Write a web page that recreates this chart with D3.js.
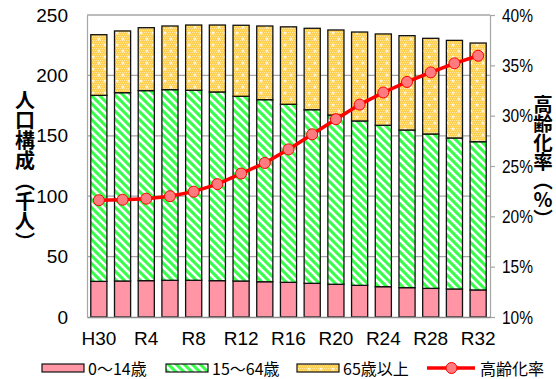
<!DOCTYPE html>
<html><head><meta charset="utf-8">
<script src="https://cdn.jsdelivr.net/npm/d3@7"></script>
<style>
html,body{margin:0;padding:0;background:#fff;}
svg{display:block;}
.vt{writing-mode:vertical-rl;text-orientation:upright;}
</style></head>
<body><svg id="c" width="556" height="379"></svg>
<script>
const categories = ["H30","R2","R4","R6","R8","R10","R12","R14","R16","R18","R20","R22","R24","R26","R28","R30","R32"];
const tickCategories = ["H30","R4","R8","R12","R16","R20","R24","R28","R32"];
const age0_14  = [29.5,29.8,30.1,30.4,30.4,30.1,29.8,29.2,28.7,27.9,27.1,26.2,25.1,24.3,23.7,23.2,22.4];
const age15_64 = [154.0,155.9,157.3,157.8,157.3,156.2,152.9,150.7,147.4,143.7,140.1,136.1,133.6,130.5,127.8,125.0,122.7];
const age65    = [50.2,51.1,52.1,52.7,54.0,55.4,58.8,61.0,64.1,67.4,70.4,73.6,75.6,78.1,79.2,80.8,81.7];
const agingRate = [21.6,21.65,21.75,22.0,22.45,23.2,24.25,25.3,26.65,28.15,29.65,31.1,32.3,33.35,34.3,35.2,35.95];
const leftTicks = [0,50,100,150,200,250];
const rightTicks = [10,15,20,25,30,35,40];
const seriesNames = ["0～14歳","15～64歳","65歳以上","高齢化率"];
const leftTitle = "人口構成（千人）";
const rightTitle = "高齢化率（％）";

const svg = d3.select("#c");
const L = 87, R = 490, T = 15, B = 317;
const numFont = "'Liberation Sans', Arial, sans-serif";
const jpFont = "'Noto Sans CJK JP', sans-serif";

// patterns
const defs = svg.append("defs");
const pg = defs.append("pattern").attr("id","pGreen").attr("patternUnits","userSpaceOnUse")
  .attr("width",8).attr("height",8);
pg.append("rect").attr("width",8).attr("height",8).attr("fill","#38FF4C");
pg.append("path").attr("d","M-2,6 L2,10 M-1,-1 L9,9 M6,-2 L10,2").attr("stroke","#fff").attr("stroke-width",2.6);

const py = defs.append("pattern").attr("id","pYellow").attr("patternUnits","userSpaceOnUse")
  .attr("width",12).attr("height",12);
py.append("rect").attr("width",12).attr("height",12).attr("fill","#FFCF52");
for (let i=0;i<12;i+=2) for (let j=0;j<12;j+=2) {
  py.append("rect").attr("x",i+((j/2)%2)).attr("y",j).attr("width",1).attr("height",1).attr("fill","#FFE8A0");
}
py.append("path").attr("d","M3,1.5 L3,4.5 M1.5,3 L4.5,3 M9,7.5 L9,10.5 M7.5,9 L10.5,9").attr("stroke","#fff").attr("stroke-width",1);

const x = d3.scaleBand().domain(categories).range([L,R]).paddingInner(0.32).paddingOuter(0.16);
const y = d3.scaleLinear().domain([0,250]).range([B,T]);
const y2 = d3.scaleLinear().domain([10,40]).range([B,T]);

// gridlines
svg.append("g").selectAll("line").data(leftTicks.slice(1)).join("line")
  .attr("x1",L).attr("x2",R).attr("y1",d=>y(d)).attr("y2",d=>y(d))
  .attr("stroke","#A6A6A6").attr("stroke-width",1.2);

// bars
const stackData = categories.map((c,i)=>({c, a:age0_14[i], b:age15_64[i], d:age65[i]}));
const stack = d3.stack().keys(["a","b","d"])(stackData);
const fills = ["#FF95A5","url(#pGreen)","url(#pYellow)"];
stack.forEach((s,k)=>{
  svg.append("g").selectAll("rect").data(s).join("rect")
    .attr("x",d=>x(d.data.c)).attr("width",x.bandwidth())
    .attr("y",d=>y(d[1])).attr("height",d=>y(d[0])-y(d[1]))
    .attr("fill",fills[k]).attr("stroke","#111").attr("stroke-width",1.3);
});

// axes
const gl = svg.append("g").attr("transform",`translate(${L},0)`)
  .call(d3.axisLeft(y).tickValues(leftTicks).tickSize(0).tickPadding(19));
gl.select(".domain").attr("stroke","#A6A6A6").attr("stroke-width",1.2);
gl.selectAll("text").attr("font-family",numFont).attr("font-size",19).attr("fill","#000");

const gr = svg.append("g").attr("transform",`translate(${R},0)`)
  .call(d3.axisRight(y2).tickValues(rightTicks).tickSize(5).tickPadding(7).tickFormat(d=>d+"%"));
gr.select(".domain").attr("stroke","#A6A6A6").attr("stroke-width",1.2);
gr.selectAll(".tick line").attr("stroke","#A6A6A6").attr("stroke-width",1.2);
gr.selectAll("text").attr("font-family",numFont).attr("font-size",19).attr("fill","#000")
  .attr("textLength",31).attr("lengthAdjust","spacingAndGlyphs");

const gb = svg.append("g").attr("transform",`translate(0,${B})`)
  .call(d3.axisBottom(x).tickValues(tickCategories).tickSize(0).tickPadding(10));
gb.select(".domain").attr("stroke","#8C8C8C").attr("stroke-width",1.4);
gb.selectAll("text").attr("font-family",numFont).attr("font-size",19).attr("fill","#000")
  .attr("dy","0.95em");

// top border
svg.append("line").attr("x1",L).attr("x2",R).attr("y1",T).attr("y2",T).attr("stroke","#A6A6A6").attr("stroke-width",1.2);

// aging rate line
const line = d3.line().x((d,i)=>x(categories[i])+x.bandwidth()/2).y(d=>y2(d));
svg.append("path").datum(agingRate).attr("d",line).attr("fill","none").attr("stroke","#FF0000").attr("stroke-width",3.5);
svg.append("g").selectAll("circle").data(agingRate).join("circle")
  .attr("cx",(d,i)=>x(categories[i])+x.bandwidth()/2).attr("cy",d=>y2(d)).attr("r",5.5)
  .attr("fill","#FF7B80").attr("stroke","#FF0000").attr("stroke-width",1);

// axis titles (vertical writing)
svg.append("text").attr("class","vt").attr("x",25).attr("y",90)
  .attr("font-family",jpFont).attr("font-weight","bold").attr("font-size",20)
  .attr("letter-spacing",0.3).text(leftTitle);
svg.append("text").attr("class","vt").attr("x",543).attr("y",95)
  .attr("font-family",jpFont).attr("font-weight","bold").attr("font-size",19.5)
  .attr("letter-spacing",-0.5).text(rightTitle);

// legend
const lg = svg.append("g");
const ly = 368;
const legendX = [42,166,297,427];
const legendFills = ["#FF95A5","url(#pGreen)","url(#pYellow)"];
[0,1,2].forEach(k=>{
  lg.append("rect").attr("x",legendX[k]).attr("y",ly-4).attr("width",42).attr("height",8)
    .attr("fill",legendFills[k]).attr("stroke","#111").attr("stroke-width",1.2);
  lg.append("text").attr("x",legendX[k]+46).attr("y",ly).attr("dominant-baseline","central")
    .attr("font-family",jpFont).attr("font-size",16).text(seriesNames[k]);
});
lg.append("line").attr("x1",legendX[3]).attr("x2",legendX[3]+48).attr("y1",ly).attr("y2",ly)
  .attr("stroke","#FF0000").attr("stroke-width",3.5);
lg.append("circle").attr("cx",legendX[3]+24.5).attr("cy",ly).attr("r",5.5)
  .attr("fill","#FF7B80").attr("stroke","#FF0000").attr("stroke-width",1);
lg.append("text").attr("x",legendX[3]+53).attr("y",ly).attr("dominant-baseline","central")
  .attr("font-family",jpFont).attr("font-size",16).text(seriesNames[3]);
</script></body></html>
